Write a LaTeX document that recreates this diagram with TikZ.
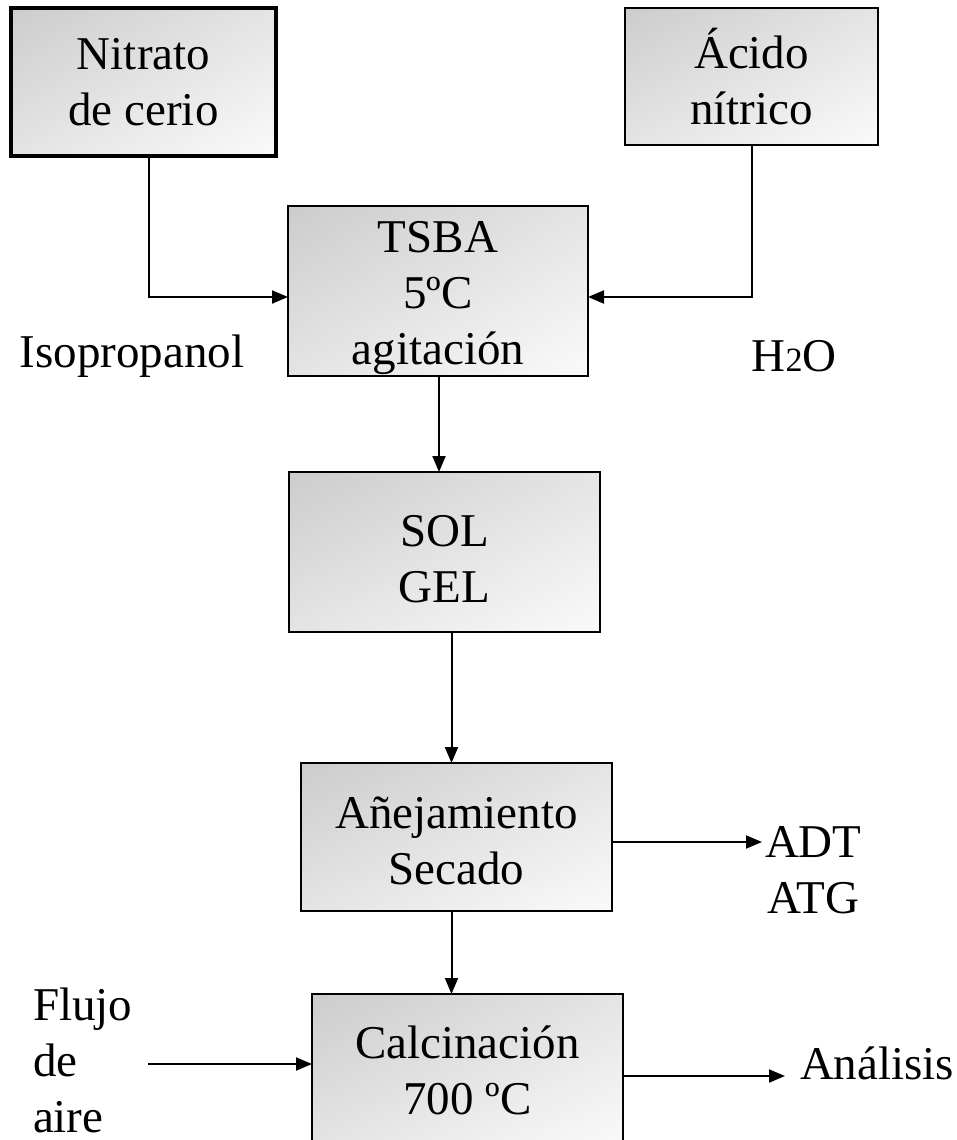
\documentclass[tikz,border=0pt]{standalone}
\usepackage{fontspec}
\setmainfont{Liberation Serif}
\usetikzlibrary{arrows.meta,calc,shadings}
\definecolor{shA}{RGB}{204,204,204}
\definecolor{shB}{RGB}{228,228,228}
\definecolor{shC}{RGB}{250,250,250}
\begin{document}
\begin{tikzpicture}[x=1pt,y=-1pt,
  every node/.style={inner sep=0pt, outer sep=0pt, font=\fontsize{47}{56}\selectfont, align=center},
  procbox/.style={draw=black, line width=2.2pt, shade, upper left=shA, upper right=shB, lower left=shB, lower right=shC},
  arr/.style={line width=2pt, -{Triangle[length=16pt,width=13pt]}}]
\clip (0,0) rectangle (956,1140);
\fill[white] (0,0) rectangle (956,1140);
% boxes
\node[procbox, line width=3.5pt, minimum width=265pt, minimum height=148pt] (nitrato) at (143.5,82) {Nitrato\\de cerio};
\node[procbox, minimum width=253pt, minimum height=137pt] (acido) at (751.5,76.5) {Ácido\\nítrico};
\node[procbox, minimum width=300pt, minimum height=170pt] (tsba) at (438,291) {\rule{0pt}{45pt}TSBA\\5ºC\\agitación};
\node[procbox, minimum width=311pt, minimum height=160pt] (sol) at (444.5,552) {\rule{0pt}{45pt}SOL\\GEL};
\node[procbox, minimum width=311pt, minimum height=148pt] (anej) at (456.5,837) {\rule{0pt}{40pt}Añejamiento\\Secado};
\node[procbox, minimum width=311pt, minimum height=152pt] (calc) at (467.5,1070) {Calcinación\\700 ºC};
% labels
\node (iso) at (132,356) {Isopropanol};
\node (h2o) at (794,356) {H{\fontsize{34}{34}\selectfont 2}O};
\node[anchor=west] (adt) at (765,870) {ADT\\ATG};
\node[anchor=west, align=left] (flujo) at (33,1060) {Flujo\\de\\aire};
\node[anchor=west] (analisis) at (800,1063) {Análisis};
% connectors
\draw[arr] ([xshift=5pt]nitrato.south) |- ([yshift=-6pt]tsba.west);
\draw[arr] (acido.south) |- ([yshift=-6pt]tsba.east);
\draw[arr] ([xshift=1pt]tsba.south) -- ([xshift=1pt]tsba.south |- sol.north);
\draw[arr] ([xshift=7pt]sol.south) -- ([xshift=7pt]sol.south |- anej.north);
\draw[arr] ([xshift=-5pt]anej.south) -- ([xshift=-5pt]anej.south |- calc.north);
\draw[arr] ([yshift=-5pt]anej.east) -- ([yshift=-5pt,xshift=-3pt]anej.east -| adt.west);
\coordinate (fstart) at (148,1064);
\draw[arr] (fstart) -- (fstart -| calc.west);
\coordinate (aend) at (785,1076);
\draw[arr] (aend -| calc.east) -- (aend);
\end{tikzpicture}
\end{document}
